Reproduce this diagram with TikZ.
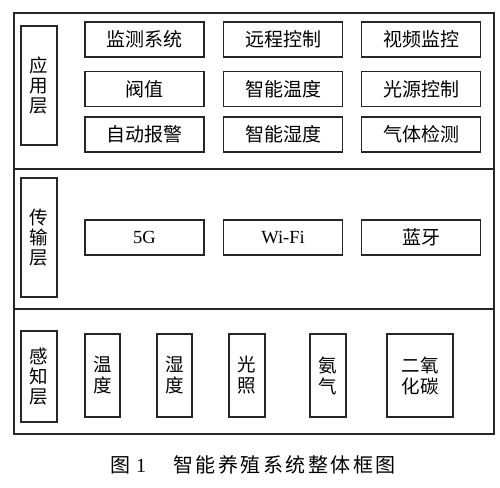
\documentclass[tikz,border=0pt]{standalone}
\usepackage{fontspec}
\setmainfont{Liberation Serif}
\newfontfamily\cjk{Noto Sans CJK SC}
\begin{document}
\begin{tikzpicture}[x=1pt,y=-1pt,
  cell/.style={draw=black!85,line width=1.2pt,inner sep=0pt,align=center,
    font=\fontsize{19}{21}\selectfont\cjk},
  wide/.style={cell,minimum width=119pt,minimum height=35pt},
  layerlbl/.style={cell,minimum width=36pt,font=\fontsize{18.5}{20}\selectfont\cjk},
  tall/.style={cell,minimum height=83pt,font=\fontsize{18.5}{21}\selectfont\cjk},
  frame/.style={draw=black!85,line width=1.2pt}]
\useasboundingbox (0,0) rectangle (500,487);
% outer frame and dividers
\draw[frame] (14,13) rectangle (494,434);
\coordinate (d1l) at (14,169); \coordinate (d1r) at (494,169);
\coordinate (d2l) at (14,309); \coordinate (d2r) at (494,309);
\draw[frame] (d1l) -- (d1r);
\draw[frame] (d2l) -- (d2r);
% layer labels
\node[layerlbl,minimum height=119pt] (lapp) at (39,85.5) {应\\用\\层};
\node[layerlbl,minimum height=119pt] (ltr) at (39,237.5) {传\\输\\层};
\node[layerlbl,minimum height=91pt] (lper) at (39,376.5) {感\\知\\层};
% application layer
\node[wide] (a11) at (144.5,39.5) {监测系统};
\node[wide] (a12) at (283,39.5) {远程控制};
\node[wide] (a13) at (421,39.5) {视频监控};
\node[wide] (a21) at (144.5,89) {阀值};
\node[wide] (a22) at (283,89) {智能温度};
\node[wide] (a23) at (421,89) {光源控制};
\node[wide] (a31) at (144.5,134.5) {自动报警};
\node[wide] (a32) at (283,134.5) {智能湿度};
\node[wide] (a33) at (421,134.5) {气体检测};
% transmission layer
\node[wide,font=\fontsize{18.5}{21}\selectfont] (t1) at (144.5,237.5) {5G};
\node[wide,font=\fontsize{18.5}{21}\selectfont] (t2) at (283,237.5) {Wi-Fi};
\node[wide] (t3) at (421,237.5) {蓝牙};
% perception layer
\node[tall,minimum width=35pt] (p1) at (102.5,375.5) {温\\度};
\node[tall,minimum width=35pt] (p2) at (174.5,375.5) {湿\\度};
\node[tall,minimum width=36pt] (p3) at (247,375.5) {光\\照};
\node[tall,minimum width=36pt] (p4) at (328,375.5) {氨\\气};
\node[tall,minimum width=66pt] (p5) at (420,375.5) {二氧\\化碳};
% caption
\node[inner sep=0pt,font=\fontsize{20}{22}\selectfont] (cap1) at (128,465) {{\cjk 图}\hspace{6pt}1};
\node[inner sep=0pt,font=\fontsize{20}{22}\selectfont\cjk] (cap2) at (284.5,465)
  {智\hspace{2.5pt}能\hspace{2.5pt}养\hspace{2.5pt}殖\hspace{2.5pt}系\hspace{2.5pt}统\hspace{2.5pt}整\hspace{2.5pt}体\hspace{2.5pt}框\hspace{2.5pt}图};
\end{tikzpicture}
\end{document}
